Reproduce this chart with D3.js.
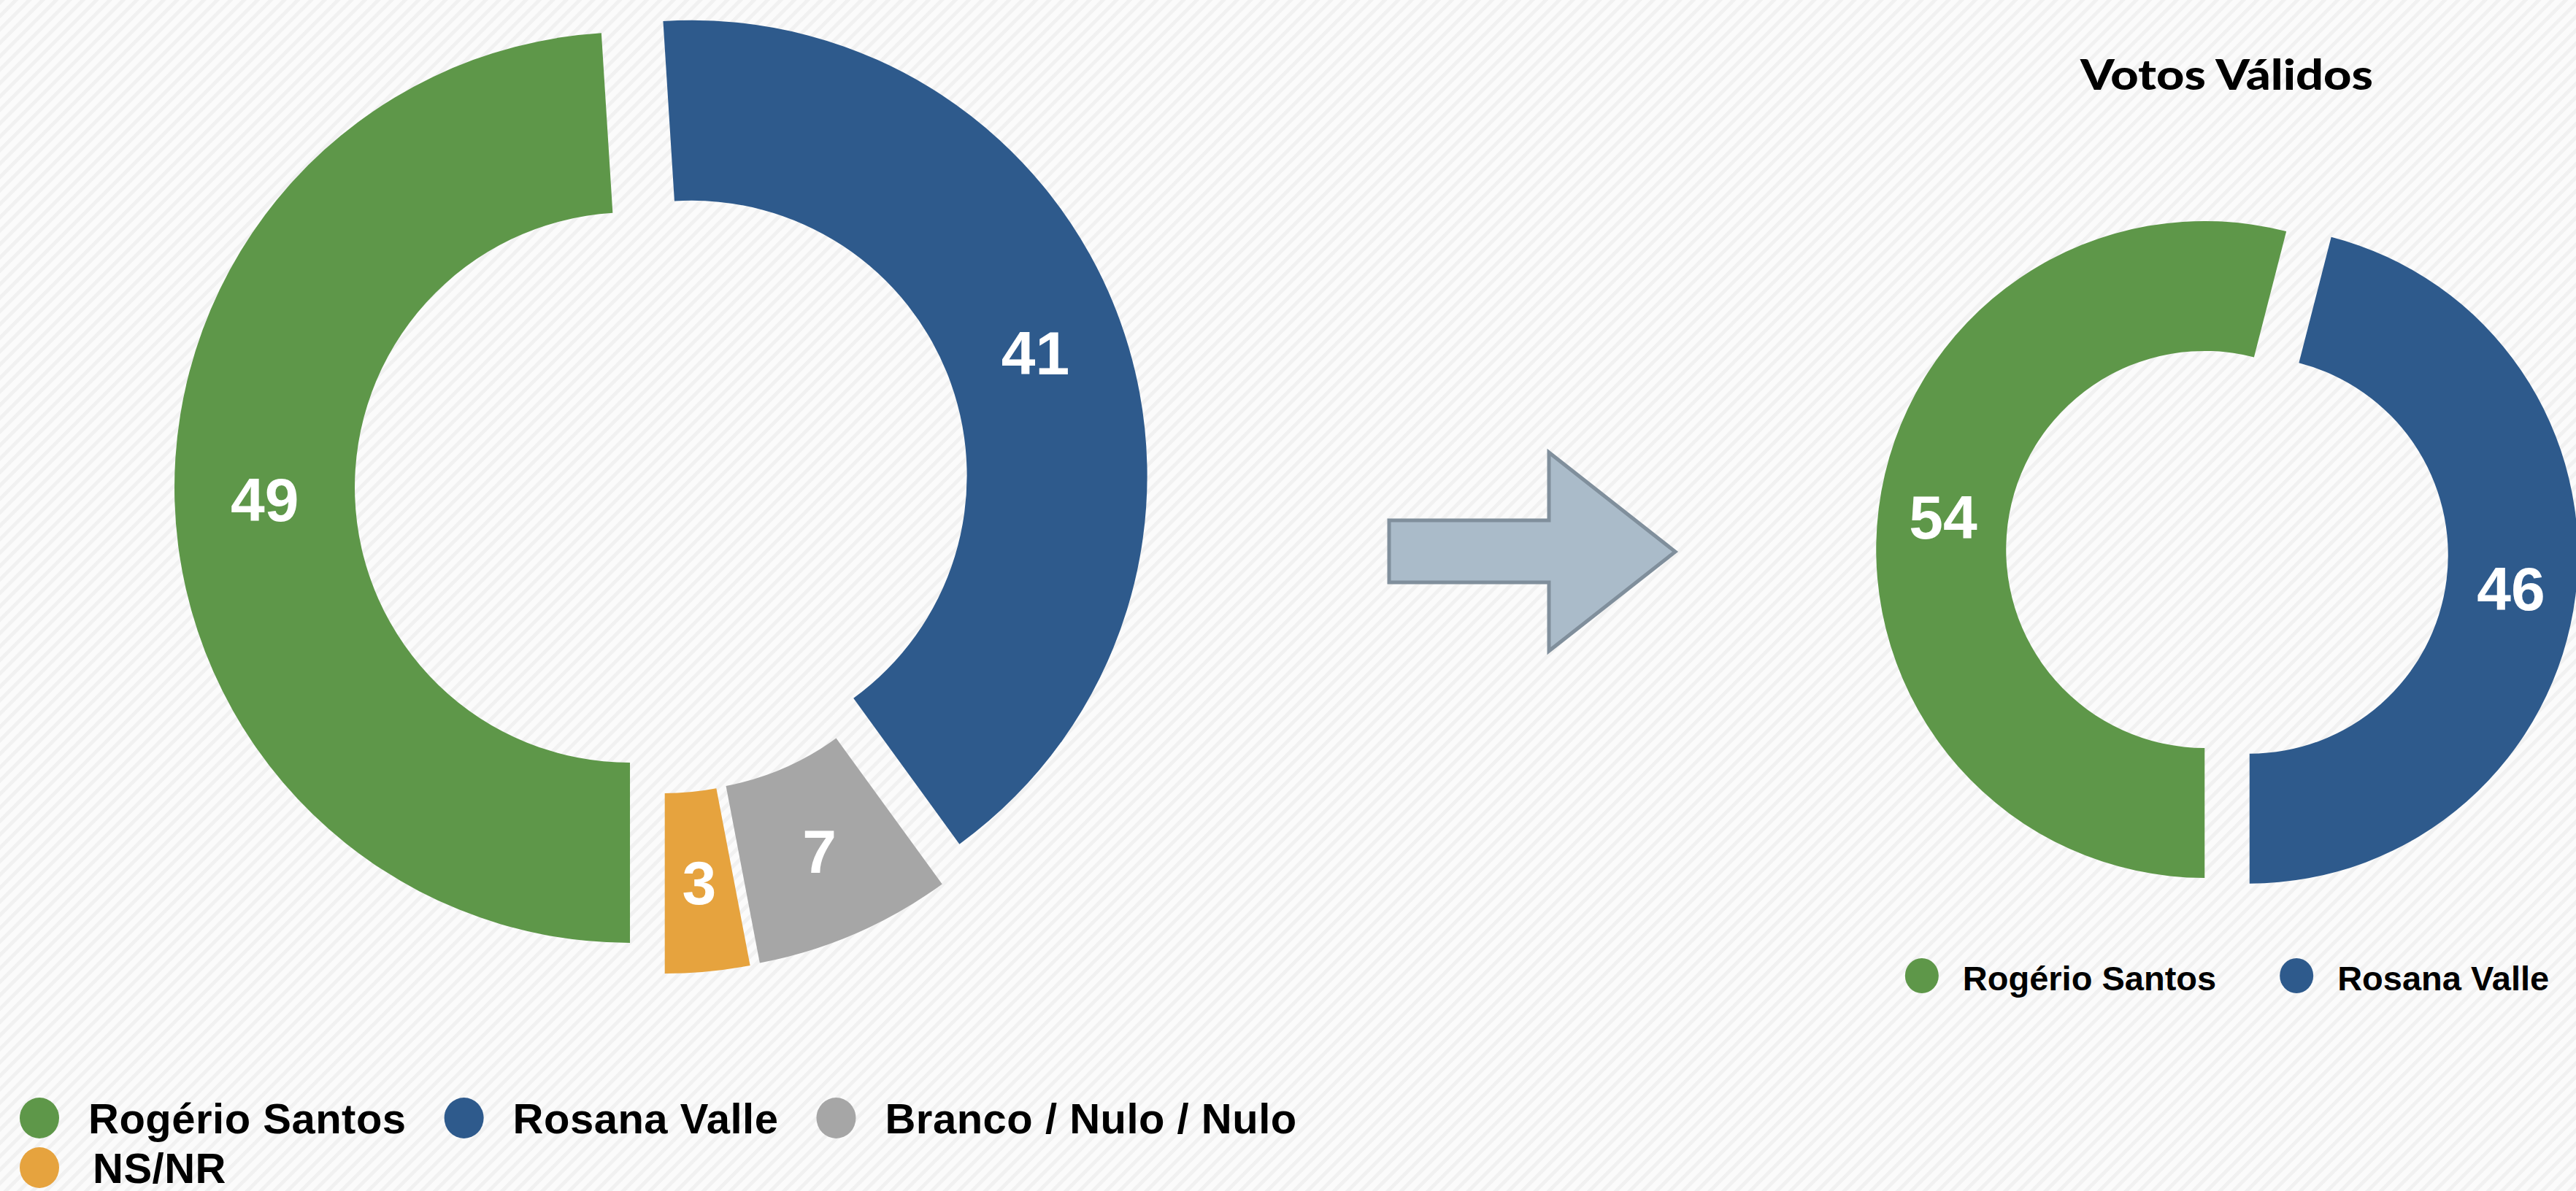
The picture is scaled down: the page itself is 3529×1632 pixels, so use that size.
<!DOCTYPE html>
<html lang="pt-br">
<head>
    <meta charset="utf-8">
    <title>Votos Totais e Votos Válidos</title>
    <script src="https://cdn.jsdelivr.net/npm/d3@7/dist/d3.min.js"></script>
    <style>
        html, body { margin: 0; padding: 0; background: #ffffff; }
        svg { display: block; }
        .label { font-family: "Liberation Sans", Arial, sans-serif; font-weight: bold; fill: #ffffff; }
        .legend text { font-family: "Liberation Sans", Arial, sans-serif; font-weight: bold; fill: #000000; }
        .title { font-family: Lato, "Open Sans", sans-serif; font-weight: 900; fill: #000000; }
    </style>
</head>
<body>
<div id="chart"></div>

<script>
    // Dados
    var categorias = ['Rogério Santos', 'Rosana Valle', 'Branco / Nulo / Nulo', 'NS/NR'];
    var votosTotais = [49, 41, 7, 3];
    var categoriasValidas = ['Rogério Santos', 'Rosana Valle'];
    var votosValidos = [54, 46];
    var cores = ['#5e9749', '#2e5a8c', '#a6a6a6', '#e6a33e'];
    var titulo = 'Votos Válidos';

    var width = 3529,
        height = 1632;

    var svg = d3.select('#chart').append('svg')
        .attr('width', width)
        .attr('height', height);

    // fundo listrado
    var defs = svg.append('defs');
    var pat = defs.append('pattern')
        .attr('id', 'fundo')
        .attr('patternUnits', 'userSpaceOnUse')
        .attr('width', 13)
        .attr('height', 13)
        .attr('patternTransform', 'rotate(-45)');
    pat.append('rect').attr('width', 13).attr('height', 13).attr('fill', '#fbfbfb');
    pat.append('rect').attr('width', 13).attr('height', 5).attr('fill', '#f1f1f1');

    svg.append('rect')
        .attr('width', width)
        .attr('height', height)
        .attr('fill', 'url(#fundo)');

    var color = d3.scaleOrdinal().domain(categorias).range(cores);

    // Rosca com fatias destacadas
    function donut(selection, cfg) {
        var pie = d3.pie()
            .sort(null)
            .startAngle(Math.PI)
            .endAngle(3 * Math.PI)
            .value(function(d) { return d.valor; });

        var arc = d3.arc()
            .innerRadius(cfg.r)
            .outerRadius(cfg.R);

        var g = selection.append('g')
            .attr('transform', 'translate(' + cfg.cx + ',' + cfg.cy + ')');

        var fatias = g.selectAll('g.fatia')
            .data(pie(cfg.dados))
            .enter()
            .append('g')
            .attr('class', 'fatia')
            .attr('transform', function(d) {
                var a = (d.startAngle + d.endAngle) / 2;
                return 'translate(' + (Math.sin(a) * cfg.explode) + ',' + (-Math.cos(a) * cfg.explode) + ')';
            });

        fatias.append('path')
            .attr('d', arc)
            .attr('fill', function(d) { return color(d.data.nome); });

        fatias.append('text')
            .attr('class', 'label')
            .attr('transform', function(d) { return 'translate(' + arc.centroid(d) + ')'; })
            .attr('text-anchor', 'middle')
            .attr('dy', '0.36em')
            .style('font-size', cfg.fonte + 'px')
            .text(function(d) { return d.data.valor; });
    }

    var dadosTotais = categorias.map(function(c, i) { return { nome: c, valor: votosTotais[i] }; });
    var dadosValidos = categoriasValidas.map(function(c, i) { return { nome: c, valor: votosValidos[i] }; });

    svg.call(donut, { dados: dadosTotais, cx: 906.6, cy: 666.6, R: 624, r: 377, explode: 43.6, fonte: 84 });
    svg.call(donut, { dados: dadosValidos, cx: 3051, cy: 756.8, R: 450, r: 272, explode: 31, fonte: 84 });

    // Seta
    var seta = [[1903, 713], [2122, 713], [2122, 620], [2295, 756], [2122, 892], [2122, 798], [1903, 798]];
    svg.append('path')
        .attr('d', d3.line()(seta) + 'Z')
        .attr('fill', '#aabbc9')
        .attr('stroke', '#808f9c')
        .attr('stroke-width', 5)
        .attr('stroke-linejoin', 'miter');

    // Título
    svg.append('text')
        .attr('class', 'title')
        .attr('x', 3050.5)
        .attr('y', 123)
        .attr('text-anchor', 'middle')
        .attr('textLength', 401)
        .attr('lengthAdjust', 'spacingAndGlyphs')
        .style('font-size', '57px')
        .text(titulo);

    // Legenda esquerda
    var legEsq = svg.append('g').attr('class', 'legend');
    var x0 = 54;
    categorias.forEach(function(c, i) {
        var linha = i < 3 ? 0 : 1;
        if (i === 3) x0 = 54;
        var cy = 1532 + linha * 68;
        var item = legEsq.append('g');
        item.append('ellipse')
            .attr('cx', x0).attr('cy', cy)
            .attr('rx', 27).attr('ry', 28)
            .attr('fill', color(c));
        var t = item.append('text')
            .attr('x', x0 + (linha ? 73 : 67))
            .attr('y', cy + 21)
            .style('font-size', '58px')
            .style('letter-spacing', '0.5px')
            .text(c);
        x0 = x0 + 67 + t.node().getComputedTextLength() + 79;
    });

    // Legenda direita (centralizada)
    var legDir = svg.append('g').attr('class', 'legend');
    var itens = legDir.selectAll('g')
        .data(categoriasValidas)
        .enter()
        .append('g');
    var larguras = [];
    itens.append('text')
        .attr('y', 1357)
        .style('font-size', '47px')
        .text(function(d) { return d; })
        .each(function() { larguras.push(this.getComputedTextLength()); });
    var total = 23 + 56 + larguras[0] + 110 + 56 + larguras[1];
    var xs = [3051 - total / 2 + 23];
    xs.push(xs[0] + 56 + larguras[0] + 110);
    itens.select('text').attr('x', function(d, i) { return xs[i] + 56; });
    itens.insert('ellipse', 'text')
        .attr('cx', function(d, i) { return xs[i]; })
        .attr('cy', 1337)
        .attr('rx', 23).attr('ry', 24)
        .attr('fill', function(d) { return color(d); });
</script>
</body>
</html>
